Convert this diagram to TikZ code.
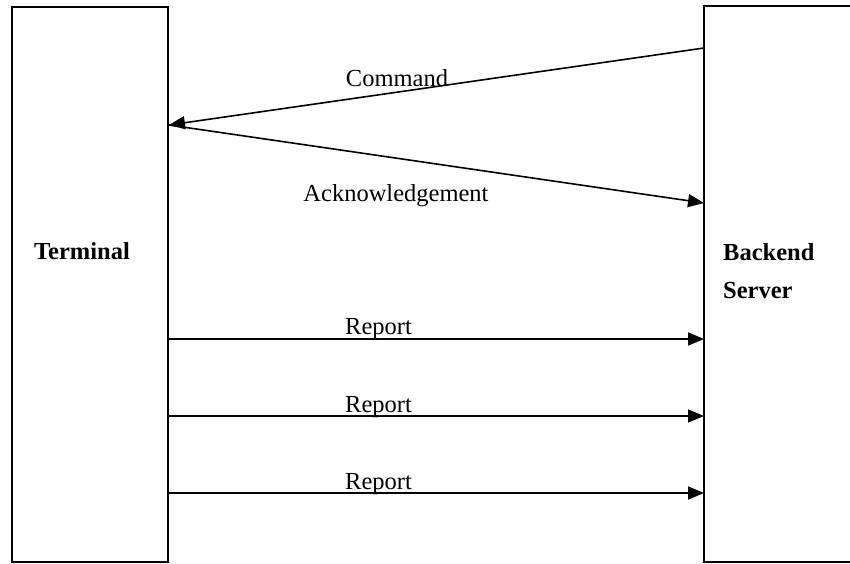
\documentclass[tikz,border=0pt]{standalone}
\usepackage{fontspec}
\setmainfont{Liberation Serif}
\usetikzlibrary{arrows.meta}

\begin{document}
\begin{tikzpicture}[
    x=1pt, y=-1pt,
    party/.style={draw=black, line width=1.3pt, fill=white, inner sep=0pt},
    msg/.style={line width=1.6pt, -{Triangle[length=16pt, width=13pt]}},
    lbl/.style={font=\fontsize{24.5}{38}\selectfont, anchor=base, inner sep=0pt},
    partylbl/.style={font=\fontsize{24.5}{38}\selectfont\bfseries, anchor=base, inner sep=0pt, align=left}
]
    \useasboundingbox (0,0) rectangle (850,563);
    % the two parties
    \node[party, minimum width=156pt, minimum height=555pt] (terminal) at (90,284.5) {};
    \draw[party] (851,6) -| (704,562) -- (851,562);
    \coordinate (backend) at (704,284);
    \node[partylbl] (terminallbl) at (82,259) {Terminal};
    \node[partylbl, anchor=base west] (backendlbl) at (723,298) {Backend\\Server};
    % end points on the box edges
    \coordinate (cmdfrom) at (704,48);
    \coordinate (cmdto) at (169,125);
    \coordinate (ackto) at (704,203);
    \foreach \i/\y in {1/339, 2/416, 3/493} {
        \coordinate (repfrom\i) at (168,\y);
        \coordinate (repto\i) at (704,\y);
    }
    % messages
    \draw[msg] (cmdfrom) -- (cmdto);
    \draw[msg] (cmdto) -- (ackto);
    \foreach \i in {1,2,3} {
        \draw[msg] (repfrom\i) -- (repto\i);
    }
    \node[lbl] (cmdlbl) at (397,86) {Command};
    \node[lbl] (acklbl) at (396,201) {Acknowledgement};
    \node[lbl] (replbl1) at (378.5,334) {Report};
    \node[lbl] (replbl2) at (378.5,412) {Report};
    \node[lbl] (replbl3) at (378.5,489) {Report};
\end{tikzpicture}
\end{document}
